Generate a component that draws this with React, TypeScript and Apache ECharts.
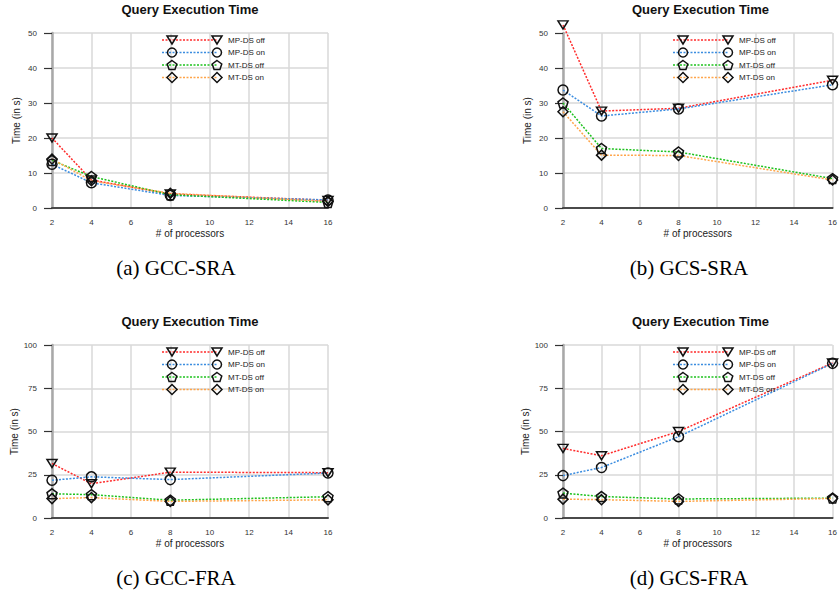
import React, { useEffect, useRef } from "react";
import * as echarts from "echarts";

// ---- data ----
const processors = [2, 4, 8, 16];
const seriesNames = ["MP-DS off", "MP-DS on", "MT-DS off", "MT-DS on"];
const xTicks = [2, 4, 6, 8, 10, 12, 14, 16];

const gccSraMpOff = [20, 8.0, 4.0, 2.2];
const gccSraMpOn = [12.5, 7.2, 3.6, 2.3];
const gccSraMtOff = [13.6, 9.0, 3.8, 1.6];
const gccSraMtOn = [14.0, 7.8, 4.2, 1.9];

const gcsSraMpOff = [52.3, 27.7, 28.5, 36.5];
const gcsSraMpOn = [33.7, 26.3, 28.3, 35.2];
const gcsSraMtOff = [30.0, 17.0, 16.0, 8.4];
const gcsSraMtOn = [27.5, 15.1, 15.0, 8.0];

const gccFraMpOff = [31.5, 19.8, 26.5, 26.2];
const gccFraMpOn = [21.8, 23.8, 22.2, 26.0];
const gccFraMtOff = [14.0, 13.5, 10.3, 12.3];
const gccFraMtOn = [11.2, 11.8, 9.6, 10.5];

const gcsFraMpOff = [40.2, 36.0, 50.0, 89.6];
const gcsFraMpOn = [24.5, 29.2, 47.0, 89.4];
const gcsFraMtOff = [14.4, 12.4, 11.0, 11.5];
const gcsFraMtOn = [10.9, 10.6, 9.6, 11.3];

const captions = ["(a) GCC-SRA", "(b) GCS-SRA", "(c) GCC-FRA", "(d) GCS-FRA"];
const chartTitle = "Query Execution Time";
const xAxisTitle = "# of processors";
const yAxisTitle = "Time (in s)";

// ---- styling / layout ----
const COLORS = ["#ff2b2b", "#3b8de0", "#1ec21e", "#ffa54a"];
const SANS = "Liberation Sans, Arial, sans-serif";
const SERIF = "Liberation Serif, Times New Roman, serif";
const PENTAGON = "path://M5,0 L10,3.8 L8.1,10 L1.9,10 L0,3.8 Z";
const SYMBOLS: any[] = [
  { symbol: "triangle", size: [10, 8], rotate: 180 },
  { symbol: "circle", size: 10, rotate: 0 },
  { symbol: PENTAGON, size: 10, rotate: 0 },
  { symbol: "diamond", size: [10, 10], rotate: 0 },
];

const panels = [
  { left: 52, top: 33, width: 276, height: 175, max: 50, interval: 10, data: [gccSraMpOff, gccSraMpOn, gccSraMtOff, gccSraMtOn], capX: 176, capY: 268 },
  { left: 563, top: 33, width: 275, height: 175, max: 50, interval: 10, data: [gcsSraMpOff, gcsSraMpOn, gcsSraMtOff, gcsSraMtOn], capX: 689, capY: 268 },
  { left: 52, top: 345, width: 276, height: 173, max: 100, interval: 25, data: [gccFraMpOff, gccFraMpOn, gccFraMtOff, gccFraMtOn], capX: 176, capY: 578 },
  { left: 563, top: 345, width: 275, height: 173, max: 100, interval: 25, data: [gcsFraMpOff, gcsFraMpOn, gcsFraMtOff, gcsFraMtOn], capX: 689, capY: 578 },
];

function markerShape(i: number, cx: number, cy: number): any {
  const style = { fill: "rgba(0,0,0,0)", stroke: "#111", lineWidth: 1.5 };
  if (i === 0) return { type: "polygon", shape: { points: [[cx - 5, cy - 4], [cx + 5, cy - 4], [cx, cy + 4]] }, style, z: 10 };
  if (i === 1) return { type: "circle", shape: { cx, cy, r: 4.5 }, style, z: 10 };
  if (i === 2) {
    const pts: number[][] = [];
    for (let k = 0; k < 5; k++) {
      const a = -Math.PI / 2 + (k * 2 * Math.PI) / 5;
      pts.push([cx + 5 * Math.cos(a), cy + 0.5 + 5 * Math.sin(a)]);
    }
    return { type: "polygon", shape: { points: pts }, style, z: 10 };
  }
  return { type: "polygon", shape: { points: [[cx, cy - 5], [cx + 5, cy], [cx, cy + 5], [cx - 5, cy]] }, style, z: 10 };
}

function buildOption() {
  const grid: any[] = [];
  const xAxis: any[] = [];
  const yAxis: any[] = [];
  const series: any[] = [];
  const graphic: any[] = [];
  const legendOffsets = [7, 19.5, 32, 44.5];

  panels.forEach((p, pi) => {
    grid.push({ left: p.left, top: p.top, width: p.width, height: p.height, containLabel: false });
    xAxis.push({
      type: "value",
      gridIndex: pi,
      min: xTicks[0],
      max: xTicks[xTicks.length - 1],
      interval: 2,
      name: xAxisTitle,
      nameLocation: "middle",
      nameGap: 20,
      nameTextStyle: { fontFamily: SANS, fontSize: 10, color: "#222" },
      axisLine: { onZero: false, lineStyle: { color: "#4a4a4a", width: 2 } },
      axisTick: { show: false },
      axisLabel: { fontFamily: SANS, fontSize: 8, color: "#333", margin: 10 },
      splitLine: { show: true, lineStyle: { color: "#d9d9d9", width: 1.5 } },
    });
    yAxis.push({
      type: "value",
      gridIndex: pi,
      min: 0,
      max: p.max,
      interval: p.interval,
      name: yAxisTitle,
      nameLocation: "middle",
      nameGap: 31,
      nameRotate: 90,
      nameTextStyle: { fontFamily: SANS, fontSize: 10, color: "#222" },
      axisLine: { show: true, lineStyle: { color: "#a8a8a8", width: 2.5 } },
      axisTick: { show: true, length: 8, lineStyle: { color: "#333", width: 1.2 } },
      axisLabel: { fontFamily: SANS, fontSize: 8, color: "#333", margin: 15 },
      splitLine: { show: true, lineStyle: { color: "#d9d9d9", width: 1.5 } },
    });
    p.data.forEach((vals, si) => {
      const sym = SYMBOLS[si];
      series.push({
        type: "line",
        name: seriesNames[si],
        xAxisIndex: pi,
        yAxisIndex: pi,
        data: processors.map((x, k) => [x, vals[k]]),
        symbol: sym.symbol,
        symbolSize: sym.size,
        symbolRotate: sym.rotate,
        showAllSymbol: true,
        clip: false,
        lineStyle: { color: COLORS[si], width: 1.5, type: [2, 1.5] },
        itemStyle: { color: "rgba(0,0,0,0)", borderColor: "#111", borderWidth: 1.5 },
        emphasis: { disabled: true },
        z: 3,
      });
    });

    // title
    graphic.push({
      type: "text",
      x: p.left + p.width / 2,
      y: p.top - 24,
      style: { text: chartTitle, fontFamily: SANS, fontWeight: "bold", fontSize: 13, fill: "#111", align: "center", verticalAlign: "middle" },
    });
    // caption
    graphic.push({
      type: "text",
      x: p.capX,
      y: p.capY,
      style: { text: captions[pi], fontFamily: SERIF, fontSize: 21, fill: "#000", align: "center", verticalAlign: "middle" },
    });
    // legend
    seriesNames.forEach((nm, si) => {
      const y = p.top + legendOffsets[si];
      const x0 = p.left + 110;
      const m1 = p.left + 120;
      const m2 = p.left + 165;
      graphic.push({
        type: "line",
        shape: { x1: x0, y1: y, x2: m2, y2: y },
        style: { stroke: COLORS[si], lineWidth: 1.5, lineDash: [2, 1.5] },
        z: 9,
      });
      graphic.push(markerShape(si, m1, y));
      graphic.push(markerShape(si, m2, y));
      graphic.push({
        type: "text",
        x: p.left + 176,
        y: y,
        style: { text: nm, fontFamily: SANS, fontSize: 8, fill: "#222", align: "left", verticalAlign: "middle" },
        z: 10,
      });
    });
  });

  return {
    animation: false,
    backgroundColor: "#ffffff",
    grid,
    xAxis,
    yAxis,
    series,
    graphic,
  };
}

export default function App() {
  const ref = useRef<HTMLDivElement>(null);
  useEffect(() => {
    document.body.style.margin = "0";
    if (!ref.current) return;
    const chart = echarts.init(ref.current, undefined, { renderer: "svg" });
    chart.setOption(buildOption() as any);
    return () => chart.dispose();
  }, []);
  return <div ref={ref} style={{ width: 840, height: 604, position: "absolute", left: 0, top: 0 }} />;
}
